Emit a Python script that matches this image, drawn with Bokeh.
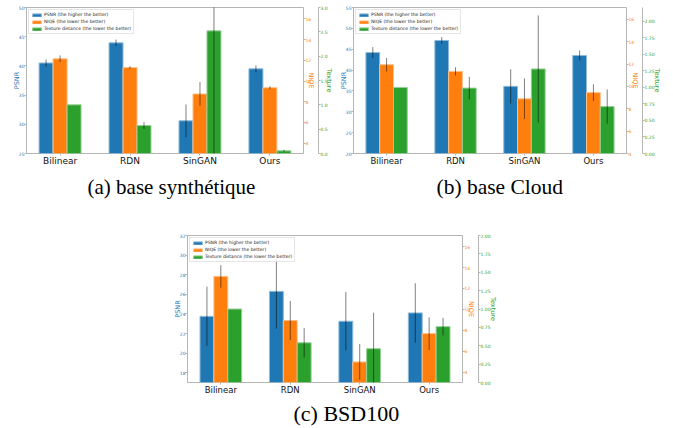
import numpy as np
from bokeh.plotting import figure
from bokeh.models import (Range1d, LinearAxis, FixedTicker, SingleIntervalTicker, Title,
                          Spacer, PrintfTickFormatter)
from bokeh.layouts import column, row
from bokeh.embed import file_html
from bokeh.resources import INLINE

categories = ["Bilinear", "RDN", "SinGAN", "Ours"]
series_labels = ["PSNR (the higher the better)", "NIQE (the lower the better)",
                 "Texture distance (the lower the better)"]

# (a) base synthétique
a_psnr = [40.5, 43.95, 30.6, 39.5]
a_psnr_err = [0.6, 0.55, 2.8, 0.6]
a_niqe = [12.15, 11.3, 8.75, 9.35]
a_niqe_err = [0.32, 0.13, 1.15, 0.15]
a_tex = [1.0, 0.575, 2.52, 0.055]
a_tex_err = [0.0, 0.07, 2.6, 0.02]

# (b) base Cloud
b_psnr = [44.2, 47.1, 36.1, 43.5]
b_psnr_err = [1.3, 0.8, 4.1, 1.2]
b_niqe = [11.95, 11.35, 8.9, 9.45]
b_niqe_err = [0.6, 0.37, 1.82, 0.75]
b_tex = [1.0, 0.99, 1.28, 0.71]
b_tex_err = [0.0, 0.17, 0.81, 0.26]

# (c) BSD100
c_psnr = [23.75, 26.3, 23.25, 24.1]
c_psnr_err = [3.03, 3.8, 2.98, 3.03]
c_niqe = [13.15, 8.95, 5.0, 7.7]
c_niqe_err = [1.07, 1.86, 1.7, 1.55]
c_tex = [1.0, 0.54, 0.46, 0.76]
c_tex_err = [0.0, 0.2, 0.49, 0.12]

BLUE, ORANGE, GREEN = "#1f77b4", "#ff7f0e", "#2ca02c"
LIGHT = {"#1f77b4": "#8fbbd9", "#ff7f0e": "#ffbf86", "#2ca02c": "#95cf95"}
FRAME = "#b5b5b5"
TICKF = "4.5px"
LABF = "6.5px"
XMIN, XMAX = -0.48, 3.48


def style_axis(ax, color, label, label_standoff, fmt=None, step=None, line=None):
    ax.major_label_text_color = color
    ax.major_label_text_font = "DejaVu Sans"
    ax.major_label_text_font_size = TICKF
    ax.major_label_standoff = 0
    ax.major_tick_out = 2
    ax.major_tick_in = 0
    ax.minor_tick_out = 0
    ax.minor_tick_in = 0
    ax.major_tick_line_color = FRAME
    ax.minor_tick_line_color = None
    ax.axis_line_color = line
    ax.axis_label = label
    ax.axis_label_text_color = color
    ax.axis_label_text_font = "DejaVu Sans"
    ax.axis_label_text_font_size = LABF
    ax.axis_label_text_font_style = "normal"
    ax.axis_label_text_line_height = 1.0
    ax.axis_label_standoff = label_standoff
    if step is not None:
        ax.ticker = SingleIntervalTicker(interval=step)
    if fmt is not None:
        ax.formatter = PrintfTickFormatter(format=fmt)


def make_panel(caption, psnr, psnr_err, niqe, niqe_err, tex, tex_err,
               psnr_lim, psnr_step, niqe_lim, tex_lim, tex_step, tex_fmt,
               width, height, mb_left, mb_right, mb_top, mb_bottom,
               cat_font, cap_font, cap_offset, cap_standoff, niqe_so, tex_so):
    idx = np.arange(len(categories))
    bw = 0.2
    p = figure(width=width, height=height, output_backend="svg", toolbar_location=None,
               x_range=Range1d(XMIN, XMAX), y_range=Range1d(*psnr_lim),
               min_border_left=mb_left, min_border_right=mb_right,
               min_border_top=mb_top, min_border_bottom=mb_bottom)
    p.title.visible = False
    p.extra_y_ranges = {"niqe": Range1d(*niqe_lim), "tex": Range1d(*tex_lim)}
    p.xgrid.visible = False
    p.ygrid.visible = False
    p.outline_line_color = FRAME
    p.background_fill_color = "white"
    p.border_fill_color = "white"

    specs = [
        (idx - bw, psnr, psnr_err, BLUE, "default", series_labels[0]),
        (idx, niqe, niqe_err, ORANGE, "niqe", series_labels[1]),
        (idx + bw, tex, tex_err, GREEN, "tex", series_labels[2]),
    ]
    for xs, vals, errs, col, rng, lab in specs:
        vals = np.array(vals)
        errs = np.array(errs)
        p.vbar(x=xs, top=vals, bottom=-1000, width=bw, fill_color=col,
               line_color=LIGHT[col], line_width=1, y_range_name=rng, legend_label=lab)
        p.segment(x0=xs, x1=xs, y0=vals - errs, y1=vals + errs, line_color="black",
                  line_alpha=0.5, line_width=1, y_range_name=rng)

    style_axis(p.yaxis[0], BLUE, "PSNR", -5, step=psnr_step)
    ax_n = LinearAxis(y_range_name="niqe")
    style_axis(ax_n, ORANGE, "NIQE", niqe_so, step=2)
    p.add_layout(ax_n, "right")
    ax_t = LinearAxis(y_range_name="tex")
    style_axis(ax_t, GREEN, "Texture", tex_so, fmt=tex_fmt, step=tex_step, line=FRAME)
    p.add_layout(ax_t, "right")

    xa = p.xaxis[0]
    xa.ticker = FixedTicker(ticks=list(range(len(categories))))
    xa.major_label_overrides = {i: c for i, c in enumerate(categories)}
    xa.major_label_text_font = "DejaVu Sans"
    xa.major_label_text_font_size = cat_font
    xa.major_label_text_color = "#111111"
    xa.major_label_text_line_height = 1.0
    xa.major_label_standoff = 0
    xa.major_tick_out = 2
    xa.major_tick_in = 0
    xa.minor_tick_out = 0
    xa.major_tick_line_color = FRAME
    xa.minor_tick_line_color = None
    xa.axis_line_color = None

    lg = p.legend[0]
    lg.location = "top_left"
    lg.margin = 2
    lg.padding = 2
    lg.spacing = 2
    lg.glyph_width = 11
    lg.glyph_height = 4
    lg.label_height = 4
    lg.label_standoff = 2
    lg.label_text_font = "DejaVu Sans"
    lg.label_text_font_size = "4.5px"
    lg.label_text_color = "#222222"
    lg.border_line_color = "#cccccc"
    lg.background_fill_alpha = 0.85

    t = Title(text=caption, align="left", text_font="Liberation Serif",
              text_font_size=cap_font, text_font_style="normal", text_color="black",
              text_line_height=1.0, offset=cap_offset, standoff=cap_standoff)
    p.add_layout(t, "below")
    return p


pa = make_panel("(a) base synthétique", a_psnr, a_psnr_err, a_niqe, a_niqe_err, a_tex, a_tex_err,
                (25, 50), 5, (3.0, 17.1), (0, 3.0), 0.5, "%.1f",
                336, 230, 26, 33, 7, 77, "9px", "21px", 61, 8, -7, -6)
pb = make_panel("(b) base Cloud", b_psnr, b_psnr_err, b_niqe, b_niqe_err, b_tex, b_tex_err,
                (20, 55), 5, (4.0, 17.07), (0, 2.21), 0.25, "%.2f",
                327, 230, 14, 36, 7, 77, "8.5px", "21.5px", 83, 8, -6, -5)
pc = make_panel("(c) BSD100", c_psnr, c_psnr_err, c_niqe, c_niqe_err, c_tex, c_tex_err,
                (17, 32), 2, (3.04, 17.05), (0, 2.0), 0.25, "%.2f",
                331, 196, 19, 36, 5, 44, "8.5px", "22px", 106, 2, -6, -5)

layout = column(row(pa, pb), row(Spacer(width=168, height=196), pc))

open("out.html", "w").write(file_html(layout, INLINE))
